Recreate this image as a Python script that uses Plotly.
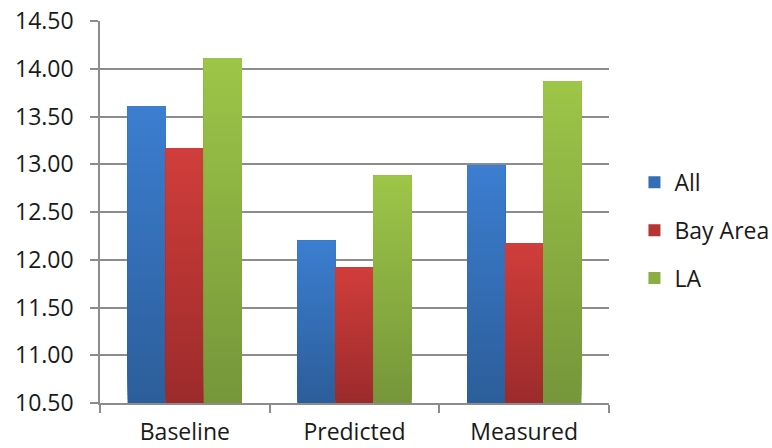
import plotly.graph_objects as go

# Chart data
categories = ["Baseline", "Predicted", "Measured"]
series_names = ["All", "Bay Area", "LA"]
all_values = [13.61, 12.20, 12.99]
bay_area_values = [13.17, 11.92, 12.17]
la_values = [14.11, 12.88, 13.87]
y_ticks = [10.5, 11.0, 11.5, 12.0, 12.5, 13.0, 13.5, 14.0, 14.5]
y_tick_labels = ["10.50", "11.00", "11.50", "12.00", "12.50", "13.00", "13.50", "14.00", "14.50"]

series_values = [all_values, bay_area_values, la_values]
# (top colour, bottom colour) of each series' vertical gradient
series_colors = [
    ((60, 126, 209), (44, 94, 154)),
    ((209, 62, 59), (156, 43, 43)),
    ((157, 198, 72), (118, 150, 58)),
]

Y_MIN, Y_MAX = 10.5, 14.5
N_BANDS = 80
FONT = "Open Sans"
GRID = "#8c8c8c"


def mix(top, bottom, t):
    r, g, b = (round(bottom[c] + (top[c] - bottom[c]) * t) for c in range(3))
    return f"rgb({r},{g},{b})"


fig = go.Figure()
for i, (name, vals, (top, bottom)) in enumerate(zip(series_names, series_values, series_colors)):
    # solid bar carrying the legend entry
    fig.add_trace(go.Bar(
        x=categories, y=vals, name=name,
        marker=dict(color=mix(top, bottom, 0.5), line=dict(width=0)),
        offsetgroup=str(i), legendgroup=str(i), hoverinfo="skip",
    ))
    # gradient overlay: stacked bands from the axis floor up to each value
    xs, bases, heights, colors = [], [], [], []
    for k in range(N_BANDS):
        t = k / N_BANDS
        for cat, v in zip(categories, vals):
            b = Y_MIN + (v - Y_MIN) * t
            xs.append(cat)
            bases.append(b)
            heights.append(v - b)
            colors.append(mix(top, bottom, t))
    fig.add_trace(go.Bar(
        x=xs, y=heights, base=bases, showlegend=False,
        marker=dict(color=colors, line=dict(width=0)),
        offsetgroup=str(i), legendgroup=str(i), hoverinfo="skip",
    ))

fig.update_layout(
    width=772, height=448,
    margin=dict(l=100, r=163, t=21, b=45, pad=0, autoexpand=False),
    paper_bgcolor="white", plot_bgcolor="white",
    barmode="group", bargap=0.327, bargroupgap=0,
    font=dict(family=FONT, size=23, color="#1a1a1a"),
    showlegend=True,
    legend=dict(
        x=1.05, xanchor="left", y=0.452, yanchor="middle",
        bgcolor="rgba(0,0,0,0)", borderwidth=0,
        tracegroupgap=15, traceorder="grouped",
        font=dict(family=FONT, size=23, color="#1a1a1a"),
    ),
)
fig.update_xaxes(
    type="category", tickson="boundaries", automargin=False,
    ticks="outside", ticklen=8, tickwidth=1.5, tickcolor=GRID,
    showline=True, linecolor=GRID, linewidth=1.5,
    showgrid=False, ticklabelstandoff=8,
)
fig.update_yaxes(
    range=[Y_MIN, Y_MAX], tickvals=y_ticks, ticktext=y_tick_labels,
    automargin=False,
    ticks="outside", ticklen=8, tickwidth=1.5, tickcolor=GRID,
    showline=True, linecolor=GRID, linewidth=1.5,
    showgrid=True, gridcolor=GRID, gridwidth=1.5,
    zeroline=False, ticklabelstandoff=12,
)

fig.write_html("out.html")
